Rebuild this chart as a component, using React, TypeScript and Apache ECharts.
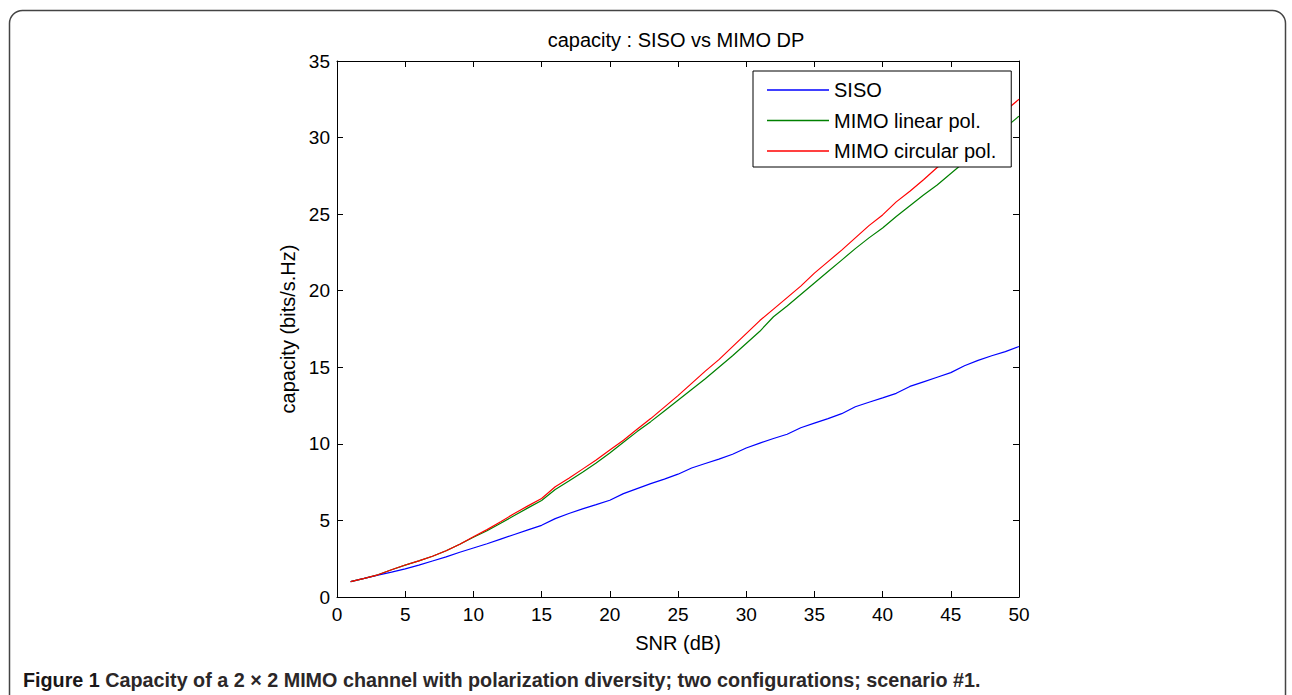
import React, { useEffect, useRef } from "react";
import * as echarts from "echarts";

const snr: number[] = Array.from({ length: 50 }, (_, i) => i + 1);

const siso: number[] = [
  1.0, 1.22, 1.43, 1.62, 1.84, 2.08, 2.35, 2.62, 2.92, 3.2,
  3.48, 3.78, 4.08, 4.38, 4.68, 5.12, 5.45, 5.75, 6.03, 6.32,
  6.75, 7.08, 7.4, 7.7, 8.02, 8.42, 8.72, 9.0, 9.32, 9.73,
  10.05, 10.35, 10.63, 11.05, 11.35, 11.65, 11.97, 12.42, 12.72, 13.0,
  13.3, 13.75, 14.05, 14.35, 14.65, 15.1, 15.45, 15.75, 16.02, 16.36,
];

const mimoLinear: number[] = [
  1.0, 1.22, 1.45, 1.78, 2.08, 2.36, 2.66, 3.02, 3.44, 3.9,
  4.33, 4.82, 5.32, 5.82, 6.3, 7.02, 7.58, 8.15, 8.75, 9.4,
  10.1, 10.8, 11.45, 12.15, 12.85, 13.55, 14.25, 15.0, 15.75, 16.55,
  17.35, 18.3, 19.0, 19.75, 20.5, 21.25, 22.0, 22.75, 23.45, 24.1,
  24.85, 25.55, 26.25, 26.9, 27.65, 28.4, 29.15, 29.9, 30.65, 31.4,
];

const mimoCircular: number[] = [
  1.0, 1.22, 1.45, 1.78, 2.09, 2.36, 2.66, 3.02, 3.45, 3.93,
  4.4, 4.92, 5.45, 5.95, 6.43, 7.2, 7.75, 8.35, 8.95, 9.6,
  10.23, 10.95, 11.65, 12.4, 13.15, 13.95, 14.75, 15.5, 16.35, 17.2,
  18.05, 18.8, 19.55, 20.3, 21.15, 21.9, 22.65, 23.45, 24.25, 24.95,
  25.8, 26.5, 27.25, 28.05, 28.8, 29.55, 30.3, 31.0, 31.75, 32.5,
];

const seriesNames: string[] = ["SISO", "MIMO linear pol.", "MIMO circular pol."];
const seriesColors: string[] = ["#0000ff", "#008000", "#ff0000"];

const FONT = "'Liberation Sans', Arial, Helvetica, sans-serif";

export default function App() {
  const ref = useRef<HTMLDivElement>(null);

  useEffect(() => {
    document.body.style.margin = "0";
    if (!ref.current) return;
    const chart = echarts.init(ref.current, undefined, { renderer: "svg" });
    const values = [siso, mimoLinear, mimoCircular];

    const tickCommon = {
      show: true,
      inside: true,
      length: 6,
      lineStyle: { color: "#000", width: 1 },
    };
    const lineCommon = { show: true, onZero: false, lineStyle: { color: "#000", width: 1 } };

    chart.setOption({
      animation: false,
      backgroundColor: "#fff",
      textStyle: { fontFamily: FONT },
      title: {
        text: "capacity : SISO vs MIMO DP",
        left: 671,
        top: 25,
        textAlign: "center",
        textStyle: { fontSize: 20, fontWeight: "normal", color: "#000", fontFamily: FONT },
      },
      legend: {
        data: seriesNames,
        orient: "vertical",
        left: 753,
        top: 71,
        icon: "rect",
        backgroundColor: "#fff",
        borderColor: "#000",
        borderWidth: 1,
        padding: [9, 15, 6, 14],
        itemGap: 10.5,
        itemWidth: 62,
        itemHeight: 1.3,
        textStyle: { fontSize: 20, color: "#000", fontFamily: FONT, lineHeight: 20 },
        z: 10,
      },
      grid: { left: 337, top: 61, right: 273, bottom: 98, containLabel: false },
      xAxis: [
        {
          type: "value",
          position: "bottom",
          min: 0,
          max: 50,
          interval: 5,
          name: "SNR (dB)",
          nameLocation: "middle",
          nameGap: 36,
          nameTextStyle: { fontSize: 20, color: "#000", fontFamily: FONT },
          axisLine: lineCommon,
          axisTick: tickCommon,
          axisLabel: { fontSize: 19, color: "#000", margin: 8, fontFamily: FONT },
          splitLine: { show: false },
        },
        {
          type: "value",
          position: "top",
          min: 0,
          max: 50,
          interval: 5,
          axisLine: lineCommon,
          axisTick: tickCommon,
          axisLabel: { show: false },
          splitLine: { show: false },
        },
      ],
      yAxis: [
        {
          type: "value",
          position: "left",
          min: 0,
          max: 35,
          interval: 5,
          name: "capacity (bits/s.Hz)",
          nameLocation: "middle",
          nameGap: 39,
          nameRotate: 90,
          nameTextStyle: { fontSize: 20, color: "#000", fontFamily: FONT },
          axisLine: lineCommon,
          axisTick: tickCommon,
          axisLabel: { fontSize: 19, color: "#000", margin: 7, fontFamily: FONT },
          splitLine: { show: false },
        },
        {
          type: "value",
          position: "right",
          min: 0,
          max: 35,
          interval: 5,
          axisLine: lineCommon,
          axisTick: tickCommon,
          axisLabel: { show: false },
          splitLine: { show: false },
        },
      ],
      series: seriesNames.map((name, i) => ({
        name,
        type: "line",
        xAxisIndex: 0,
        yAxisIndex: 0,
        data: snr.map((x, j) => [x, values[i][j]]),
        symbol: "none",
        showSymbol: false,
        smooth: false,
        color: seriesColors[i],
        lineStyle: { color: seriesColors[i], width: 1.2 },
        z: 2,
      })),
      graphic: [
        {
          type: "rect",
          shape: { x: 9.5, y: 10.5, width: 1276, height: 740, r: 13 },
          style: { fill: "none", stroke: "#444", lineWidth: 1.5 },
          silent: true,
          z: 0,
        },
        {
          type: "text",
          x: 23,
          y: 680,
          style: {
            text: "{a|Figure 1} {b|Capacity of a 2 × 2 MIMO channel with polarization diversity; two configurations; scenario #1.}",
            rich: {
              a: { fontSize: 19.75, fontWeight: "bold", fill: "#1a1718", fontFamily: FONT },
              b: { fontSize: 19.75, fontWeight: "bold", fill: "#2b2728", fontFamily: FONT },
            },
            fontSize: 19.75,
            fontWeight: "bold",
            fontFamily: FONT,
            verticalAlign: "middle",
            fill: "#231f20",
          },
          silent: true,
        },
      ],
    });

    return () => chart.dispose();
  }, []);

  return (
    <div
      ref={ref}
      style={{ position: "fixed", left: 0, top: 0, width: 1292, height: 695 }}
    />
  );
}
